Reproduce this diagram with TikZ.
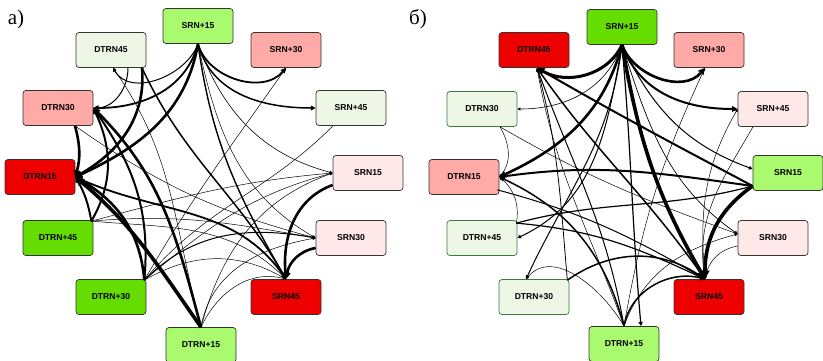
\documentclass[tikz,border=0pt]{standalone}
\usepackage{fontspec}
\setmainfont{Liberation Serif}
\setsansfont{Liberation Sans}
\usetikzlibrary{arrows.meta}
\definecolor{red1}{HTML}{EE0000}
\definecolor{pink1}{HTML}{FFAAA6}
\definecolor{vlpink}{HTML}{FFE8E8}
\definecolor{vlgreen}{HTML}{EEF7E6}
\definecolor{lgreen}{HTML}{AAFA70}
\definecolor{green1}{HTML}{66DD00}
\definecolor{dgreen}{HTML}{3A7A3A}
\definecolor{bord}{HTML}{333333}
\tikzset{
  nd/.style={draw=bord, rounded corners=3pt, minimum width=70pt, minimum height=35pt,
    inner sep=0pt, line width=0.7pt, font=\sffamily\bfseries\fontsize{8.6}{10}\selectfont},
  ed/.style={line width=#1, -{Triangle[length=2pt 1.8, width=2pt 1.8]}},
  ln/.style={line width=#1},
  lbl/.style={font=\rmfamily\fontsize{21}{21}\selectfont, inner sep=0pt}
}
\begin{document}
\begin{tikzpicture}[x=1pt,y=1pt]
\useasboundingbox (0,0) rectangle (823,-361);
\clip (0,0) rectangle (823,-361);
\node[lbl] (la) at (16,-19) {a)};
\node[lbl] (lb) at (418,-19) {б)};
% ---------- panel a ----------
\node[nd, fill=lgreen] (a1) at (198,-26) {SRN+15};
\node[nd, fill=vlgreen] (a2) at (111,-50) {DTRN45};
\node[nd, fill=pink1] (a3) at (286,-50) {SRN+30};
\node[nd, fill=pink1] (a4) at (58,-108) {DTRN30};
\node[nd, fill=vlgreen] (a5) at (351,-108) {SRN+45};
\node[nd, fill=red1] (a6) at (40,-177) {DTRN15};
\node[nd, fill=vlpink] (a7) at (368,-173) {SRN15};
\node[nd, fill=green1] (a8) at (58,-238) {DTRN+45};
\node[nd, fill=vlpink] (a9) at (351,-238) {SRN30};
\node[nd, fill=green1] (a10) at (111,-297) {DTRN+30};
\node[nd, fill=red1] (a11) at (286,-297) {SRN45};
\node[nd, fill=lgreen] (a12) at (201,-345) {DTRN+15};
\coordinate (a1o) at (a1.south);
\coordinate (a2i) at ([xshift=2pt]a2.south);
\coordinate (a2o) at ([xshift=31pt]a2.south);
\coordinate (a2p) at ([xshift=17pt]a2.south);
\coordinate (a3i) at (a3.south);
\coordinate (a4i) at (a4.east);
\coordinate (a4o) at ([xshift=17pt]a4.south);
\coordinate (a5i) at (a5.west);
\coordinate (a5o) at ([xshift=-18pt]a5.south);
\coordinate (a6i) at (a6.east);
\coordinate (a7i) at (a7.west);
\coordinate (a7o) at ([yshift=-12pt]a7.west);
\coordinate (a8o) at ([xshift=-2pt,yshift=-1pt]a8.north east);
\coordinate (a9i) at (a9.west);
\coordinate (a9o) at ([yshift=-10pt]a9.west);
\coordinate (a10o) at ([xshift=-2pt,yshift=-1pt]a10.north east);
\coordinate (a11i) at (a11.north);
\coordinate (a12o) at (a12.north);
\draw[ed=1.8pt] (a1o) to[out=-75,in=-130] (a3i);
\draw[ed=1.5pt] (a1o) to[out=-75,in=180] (a5i);
\draw[ed=1pt] (a1o) to[out=-110,in=-60] (a2i);
\draw[ed=1.8pt] (a1o) to[out=-105,in=0] (a4i);
\draw[ed=2.6pt] (a1o) to[out=-100,in=25] (a6i);
\draw[ed=0.6pt] (a1o) to[out=-70,in=165] (a7i);
\draw[ed=0.5pt] (a1o) to[out=-78,in=150] (a9i);
\draw[ed=1.4pt] (a1o) to[out=-82,in=120] (a11i);
\draw[ed=2.6pt] (a2o) to[out=-85,in=30] (a6i);
\draw[ed=1.5pt] (a2o) to[out=-65,in=120] (a11i);
\draw[ed=1pt] (a2p) to[out=-90,in=0] (a4i);
\draw[ed=2.6pt] (a4o) to[out=-75,in=75] (a6i);
\draw[ed=0.5pt] (a4o) to[out=-35,in=165] (a9i);
\draw[ed=3.6pt] (a12o) to[out=125,in=-40] (a6i);
\draw[ed=2.6pt] (a12o) to[out=105,in=-45] (a4i);
\draw[ed=2.6pt] (a10o) to[out=95,in=-30] (a6i);
\draw[ed=2pt] (a10o) to[out=85,in=-55] (a4i);
\draw[ed=2pt] (a8o) to[out=100,in=-60] (a6i);
\draw[ed=2pt] (a8o) to[out=60,in=-65] (a4i);
\draw[ed=0.5pt] (a8o) to[out=15,in=185] (a7i);
\draw[ed=0.5pt] (a8o) to[out=5,in=170] (a9i);
\draw[ed=0.5pt] (a8o) to[out=-5,in=135] (a11i);
\draw[ed=0.5pt] (a10o) to[out=40,in=195] (a7i);
\draw[ed=1pt] (a10o) to[out=45,in=170] (a9i);
\draw[ed=0.5pt] (a10o) to[out=30,in=150] (a11i);
\draw[ed=0.5pt] (a10o) to[out=60,in=-125] (a3i);
\draw[ed=0.5pt] (a12o) to[out=80,in=190] (a9i);
\draw[ed=0.5pt] (a12o) to[out=75,in=200] (a7i);
\draw[ed=0.5pt] (a12o) to[out=65,in=165] (a11i);
\draw[ed=0.5pt] (a12o) to[out=105,in=-55] (a2i);
\draw[ed=2.6pt] (a7o) to[out=200,in=95] (a11i);
\draw[ed=2.6pt] (a9o) to[out=190,in=80] (a11i);
\draw[ed=1.8pt] (a6i) to[out=-25,in=125] (a11i);
\draw[ln=0.5pt] (a5o) to[out=-135,in=50] (a10o);
% ---------- panel b ----------
\node[nd, fill=green1] (b1) at (622,-27) {SRN+15};
\node[nd, fill=red1] (b2) at (534,-50) {DTRN45};
\node[nd, fill=pink1] (b3) at (709,-50) {SRN+30};
\node[nd, fill=vlgreen, draw=dgreen] (b4) at (482,-109) {DTRN30};
\node[nd, fill=vlpink] (b5) at (773,-109) {SRN+45};
\node[nd, fill=pink1] (b6) at (464,-177) {DTRN15};
\node[nd, fill=lgreen] (b7) at (788,-173) {SRN15};
\node[nd, fill=vlgreen, draw=dgreen] (b8) at (482,-238) {DTRN+45};
\node[nd, fill=vlpink] (b9) at (773,-238) {SRN30};
\node[nd, fill=vlgreen, draw=dgreen] (b10) at (534,-297) {DTRN+30};
\node[nd, fill=red1] (b11) at (709,-297) {SRN45};
\node[nd, fill=lgreen] (b12) at (624,-344) {DTRN+15};
\coordinate (b1o) at (b1.south);
\coordinate (b2i) at ([xshift=3pt]b2.south);
\coordinate (b3i) at ([xshift=-4pt]b3.south);
\coordinate (b4i) at (b4.east);
\coordinate (b4o) at ([xshift=18pt]b4.south);
\coordinate (b5i) at (b5.west);
\coordinate (b5o) at ([xshift=-20pt]b5.south);
\coordinate (b6i) at (b6.east);
\coordinate (b6o) at ([xshift=-2pt,yshift=5pt]b6.south east);
\coordinate (b7i) at ([yshift=4pt]b7.west);
\coordinate (b7o) at ([yshift=-13pt]b7.west);
\coordinate (b8i) at (b8.east);
\coordinate (b8o) at ([xshift=-1pt,yshift=-3pt]b8.north east);
\coordinate (b9i) at ([yshift=4pt]b9.west);
\coordinate (b9o) at ([yshift=-8pt]b9.west);
\coordinate (b10i) at ([xshift=-8pt]b10.north);
\coordinate (b10o) at ([xshift=-2pt,yshift=-1pt]b10.north east);
\coordinate (b11i) at ([xshift=-4pt]b11.north);
\coordinate (b12i) at ([xshift=17pt]b12.north);
\coordinate (b12o) at (b12.north);
\draw[ed=2.6pt] (b1o) to[out=-70,in=-130] (b3i);
\draw[ed=2pt] (b1o) to[out=-70,in=180] (b5i);
\draw[ed=3pt] (b1o) to[out=-115,in=-30] (b2i);
\draw[ed=2.6pt] (b1o) to[out=-105,in=25] (b6i);
\draw[ed=0.6pt] (b1o) to[out=-110,in=0] (b4i);
\draw[ed=3.6pt] (b1o) to[out=-80,in=120] (b11i);
\draw[ed=1.2pt] (b1o) to[out=-85,in=95] (b12i);
\draw[ed=1pt] (b1o) to[out=-65,in=160] (b7i);
\draw[ed=0.7pt] (b1o) to[out=-72,in=145] (b9i);
\draw[ed=1pt] (b1o) to[out=-100,in=25] (b8i);
\draw[ed=1pt] (b1o) to[out=-97,in=65] (b10i);
\draw[ed=2pt] (b7o) to[out=152,in=-30] (b2i);
\draw[ed=2pt] (b7o) to[out=172,in=8] (b6i);
\draw[ed=3.6pt] (b7o) to[out=-145,in=90] (b11i);
\draw[ln=1.2pt] (b8o) to[out=15,in=195] (b7o);
\draw[ed=1pt] (b6o) to[out=-15,in=150] (b11i);
\draw[ed=1.2pt] (b8o) to[out=-5,in=155] (b11i);
\draw[ed=1.5pt] (b10o) to[out=35,in=145] (b11i);
\draw[ed=1.5pt] (b12o) to[out=80,in=165] (b11i);
\draw[ed=1.5pt] (b12o) to[out=105,in=-25] (b6i);
\draw[ed=1pt] (b12o) to[out=100,in=-70] (b2i);
\draw[ed=0.5pt] (b12o) to[out=110,in=-80] (b2i);
\draw[ed=0.5pt] (b12o) to[out=120,in=50] (b10i);
\draw[ed=0.5pt] (b12o) to[out=70,in=195] (b9i);
\draw[ed=0.5pt] (b4o) to[out=-30,in=160] (b9i);
\draw[ed=0.5pt] (b4o) to[out=-60,in=50] (b6i);
\draw[ed=0.5pt] (b8o) to[out=80,in=-40] (b6i);
\draw[ed=0.5pt] (b12o) to[out=80,in=-115] (b3i);
\draw[ed=0.8pt] (b10o) to[out=95,in=-75] (b2i);
\draw[ed=0.5pt] (b9o) to[out=190,in=80] (b11i);
\draw[ed=0.5pt] (b11i) to[out=95,in=-120] (b5i);
\draw[ln=0.5pt] (b5o) to[out=-120,in=100] (b11i);
\draw[ed=1.5pt] (b11i) to[out=125,in=-55] (b2i);
\end{tikzpicture}
\end{document}
